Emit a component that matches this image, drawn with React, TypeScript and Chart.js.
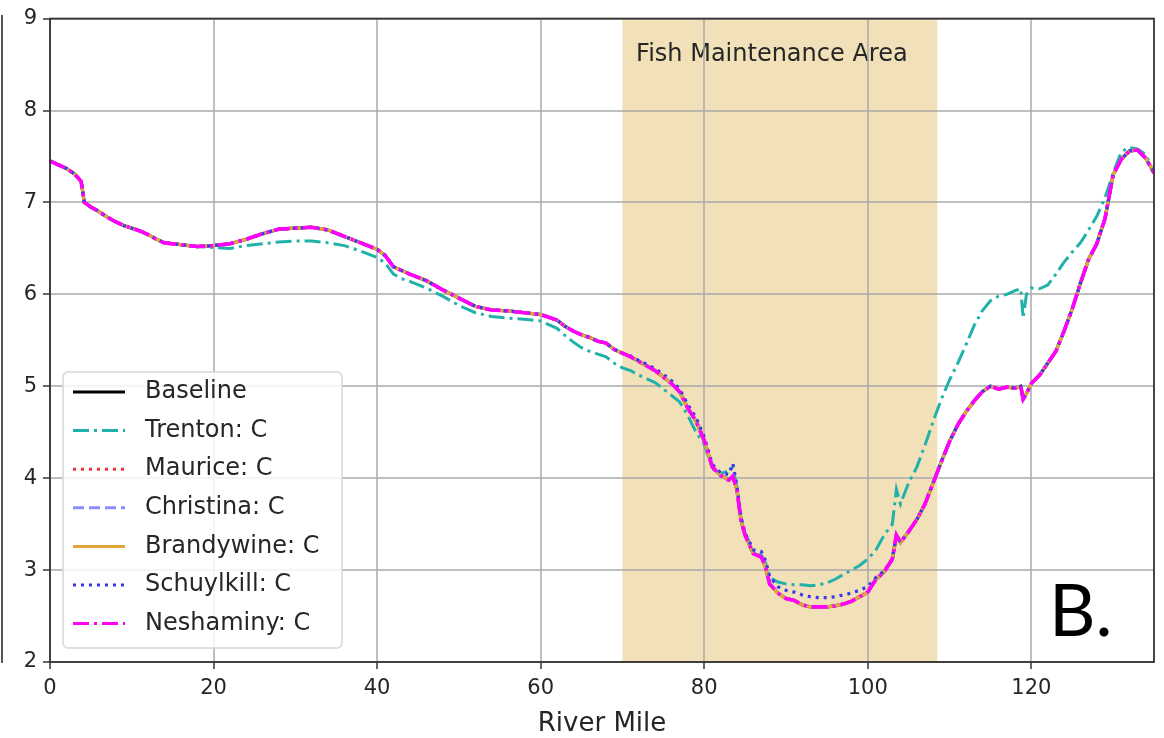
import React, { useEffect, useRef } from "react";
import { Chart, registerables } from "chart.js";

Chart.register(...registerables);

// ---------- data ----------
const riverMile = [
  0, 1, 2, 3, 3.8, 4.2, 5, 6, 7, 8,
  9, 10, 11, 12, 13, 14, 16, 18, 20, 22,
  24, 26, 28, 30, 32, 34, 36, 38, 40, 41,
  42, 43, 44, 46, 48, 50, 52, 54, 56, 58,
  60, 62, 63, 64, 65, 66, 67, 68, 69, 70,
  71, 72, 73, 74, 75, 76, 77, 78, 79, 80,
  81, 82, 83, 83.5, 84, 84.5, 85, 86, 87, 87.5,
  88, 89, 90, 91, 92, 93, 94, 95, 96, 97,
  98, 99, 100, 101, 102, 103, 103.5, 104, 105, 106,
  107, 108, 109, 110, 111, 112, 113, 114, 115, 116,
  117, 118, 118.7, 119, 119.4, 120, 121, 122, 123, 124,
  125, 126, 127, 128, 129, 130, 131, 132, 133, 134,
  135,
];

const baselineDO = [
  7.45, 7.41, 7.37, 7.31, 7.23, 7.0, 6.95, 6.9, 6.84, 6.79,
  6.75, 6.72, 6.69, 6.65, 6.6, 6.56, 6.54, 6.52, 6.53, 6.55,
  6.6, 6.66, 6.71, 6.72, 6.73, 6.7, 6.63, 6.56, 6.49, 6.42,
  6.3, 6.26, 6.22, 6.15, 6.05, 5.96, 5.87, 5.83, 5.82, 5.8,
  5.78, 5.72, 5.65, 5.6, 5.56, 5.53, 5.49, 5.47, 5.4, 5.36,
  5.32, 5.27, 5.22, 5.17, 5.1, 5.03, 4.94, 4.76, 4.62, 4.41,
  4.12, 4.03, 3.98, 4.02, 3.87, 3.54, 3.38, 3.18, 3.14, 3.03,
  2.85, 2.75, 2.69, 2.67, 2.62, 2.6, 2.6, 2.6, 2.61, 2.63,
  2.66, 2.71, 2.76, 2.9, 2.98, 3.12, 3.38, 3.3, 3.42, 3.55,
  3.72, 3.95, 4.18, 4.4, 4.58, 4.72, 4.84, 4.94, 5.0, 4.97,
  4.99, 4.98, 5.0, 4.86, 4.92, 5.03, 5.12, 5.25, 5.38, 5.6,
  5.84, 6.12, 6.38, 6.55, 6.82, 7.3, 7.47, 7.56, 7.57, 7.48,
  7.32,
];

const trentonDO = [
  7.45, 7.41, 7.37, 7.31, 7.23, 7.0, 6.95, 6.9, 6.84, 6.79,
  6.75, 6.72, 6.69, 6.65, 6.6, 6.56, 6.54, 6.52, 6.51, 6.5,
  6.53, 6.55, 6.57, 6.58, 6.58, 6.56, 6.53, 6.47, 6.4, 6.34,
  6.22, 6.17, 6.14, 6.07, 5.98, 5.88, 5.8, 5.76, 5.74, 5.73,
  5.71, 5.63, 5.55, 5.48, 5.42, 5.38, 5.35, 5.32, 5.25, 5.2,
  5.17, 5.12, 5.08, 5.04, 4.97, 4.9, 4.83, 4.68, 4.5, 4.37,
  4.1, 4.05, 4.08, 4.12, 3.9, 3.56, 3.4, 3.22, 3.16, 3.08,
  2.92, 2.87, 2.85, 2.84, 2.84, 2.83, 2.84, 2.86, 2.9, 2.95,
  3.0, 3.05, 3.12, 3.22, 3.38, 3.5, 3.88, 3.72, 3.95, 4.12,
  4.36, 4.62, 4.86, 5.07, 5.25, 5.45, 5.66, 5.82, 5.93, 5.98,
  6.0, 6.04, 6.06, 5.74, 6.0, 6.07, 6.06, 6.1, 6.22, 6.35,
  6.46, 6.56, 6.7, 6.85, 7.05, 7.32, 7.55, 7.6, 7.58, 7.52,
  7.32,
];

const mauriceDO = [
  7.45, 7.41, 7.37, 7.31, 7.23, 7.0, 6.95, 6.9, 6.84, 6.79,
  6.75, 6.72, 6.69, 6.65, 6.6, 6.56, 6.54, 6.52, 6.53, 6.55,
  6.6, 6.66, 6.71, 6.72, 6.73, 6.7, 6.63, 6.56, 6.49, 6.42,
  6.3, 6.26, 6.22, 6.15, 6.05, 5.96, 5.87, 5.83, 5.82, 5.8,
  5.78, 5.72, 5.65, 5.6, 5.56, 5.53, 5.49, 5.47, 5.4, 5.36,
  5.32, 5.27, 5.22, 5.17, 5.1, 5.03, 4.94, 4.76, 4.62, 4.41,
  4.12, 4.03, 3.98, 4.02, 3.87, 3.54, 3.38, 3.18, 3.14, 3.03,
  2.85, 2.75, 2.69, 2.67, 2.62, 2.6, 2.6, 2.6, 2.61, 2.63,
  2.66, 2.71, 2.76, 2.9, 2.98, 3.12, 3.38, 3.3, 3.42, 3.55,
  3.72, 3.95, 4.18, 4.4, 4.58, 4.72, 4.84, 4.94, 5.0, 4.97,
  4.99, 4.98, 5.0, 4.86, 4.92, 5.03, 5.12, 5.25, 5.38, 5.6,
  5.84, 6.12, 6.38, 6.55, 6.82, 7.3, 7.47, 7.56, 7.57, 7.48,
  7.32,
];

const christinaDO = [
  7.45, 7.41, 7.37, 7.31, 7.23, 7.0, 6.95, 6.9, 6.84, 6.79,
  6.75, 6.72, 6.69, 6.65, 6.6, 6.56, 6.54, 6.52, 6.53, 6.55,
  6.6, 6.66, 6.71, 6.72, 6.73, 6.7, 6.63, 6.56, 6.49, 6.42,
  6.3, 6.26, 6.22, 6.15, 6.05, 5.96, 5.87, 5.83, 5.82, 5.8,
  5.78, 5.72, 5.65, 5.6, 5.56, 5.53, 5.49, 5.47, 5.4, 5.36,
  5.32, 5.27, 5.22, 5.17, 5.1, 5.03, 4.94, 4.76, 4.62, 4.41,
  4.12, 4.03, 3.98, 4.02, 3.87, 3.54, 3.38, 3.18, 3.14, 3.03,
  2.85, 2.75, 2.69, 2.67, 2.62, 2.6, 2.6, 2.6, 2.61, 2.63,
  2.66, 2.71, 2.76, 2.9, 2.98, 3.12, 3.38, 3.3, 3.42, 3.55,
  3.72, 3.95, 4.18, 4.4, 4.58, 4.72, 4.84, 4.94, 5.0, 4.97,
  4.99, 4.98, 5.0, 4.86, 4.92, 5.03, 5.12, 5.25, 5.38, 5.6,
  5.84, 6.12, 6.38, 6.55, 6.82, 7.3, 7.47, 7.56, 7.57, 7.48,
  7.32,
];

const brandywineDO = [
  7.45, 7.41, 7.37, 7.31, 7.23, 7.0, 6.95, 6.9, 6.84, 6.79,
  6.75, 6.72, 6.69, 6.65, 6.6, 6.56, 6.54, 6.52, 6.53, 6.55,
  6.6, 6.66, 6.71, 6.72, 6.73, 6.7, 6.63, 6.56, 6.49, 6.42,
  6.3, 6.26, 6.22, 6.15, 6.05, 5.96, 5.87, 5.83, 5.82, 5.8,
  5.78, 5.72, 5.65, 5.6, 5.56, 5.53, 5.49, 5.47, 5.4, 5.36,
  5.32, 5.27, 5.22, 5.17, 5.1, 5.03, 4.94, 4.76, 4.62, 4.41,
  4.12, 4.03, 3.98, 4.02, 3.87, 3.54, 3.38, 3.18, 3.14, 3.03,
  2.85, 2.75, 2.69, 2.67, 2.62, 2.6, 2.6, 2.6, 2.61, 2.63,
  2.66, 2.71, 2.76, 2.9, 2.98, 3.12, 3.38, 3.3, 3.42, 3.55,
  3.72, 3.95, 4.18, 4.4, 4.58, 4.72, 4.84, 4.94, 5.0, 4.97,
  4.99, 4.98, 5.0, 4.86, 4.92, 5.03, 5.12, 5.25, 5.38, 5.6,
  5.84, 6.12, 6.38, 6.55, 6.82, 7.3, 7.47, 7.56, 7.57, 7.48,
  7.32,
];

const schuylkillDO = [
  7.45, 7.41, 7.37, 7.31, 7.23, 7.0, 6.95, 6.9, 6.84, 6.79,
  6.75, 6.72, 6.69, 6.65, 6.6, 6.56, 6.54, 6.52, 6.53, 6.55,
  6.6, 6.66, 6.71, 6.72, 6.73, 6.7, 6.63, 6.56, 6.49, 6.42,
  6.3, 6.26, 6.22, 6.15, 6.05, 5.96, 5.87, 5.83, 5.82, 5.8,
  5.78, 5.72, 5.65, 5.6, 5.56, 5.53, 5.49, 5.47, 5.4, 5.36,
  5.33, 5.28, 5.24, 5.19, 5.13, 5.06, 4.97, 4.8, 4.66, 4.45,
  4.15, 4.06, 4.04, 4.16, 3.92, 3.58, 3.4, 3.22, 3.2, 3.1,
  2.93, 2.82, 2.78, 2.76, 2.73, 2.71, 2.7, 2.7, 2.71, 2.73,
  2.75, 2.78, 2.82, 2.92, 2.99, 3.12, 3.38, 3.3, 3.42, 3.55,
  3.72, 3.95, 4.18, 4.4, 4.58, 4.72, 4.84, 4.94, 5.0, 4.97,
  4.99, 4.98, 5.0, 4.86, 4.92, 5.03, 5.12, 5.25, 5.38, 5.6,
  5.84, 6.12, 6.38, 6.55, 6.82, 7.3, 7.47, 7.56, 7.57, 7.48,
  7.32,
];

const neshaminyDO = [
  7.45, 7.41, 7.37, 7.31, 7.23, 7.0, 6.95, 6.9, 6.84, 6.79,
  6.75, 6.72, 6.69, 6.65, 6.6, 6.56, 6.54, 6.52, 6.53, 6.55,
  6.6, 6.66, 6.71, 6.72, 6.73, 6.7, 6.63, 6.56, 6.49, 6.42,
  6.3, 6.26, 6.22, 6.15, 6.05, 5.96, 5.87, 5.83, 5.82, 5.8,
  5.78, 5.72, 5.65, 5.6, 5.56, 5.53, 5.49, 5.47, 5.4, 5.36,
  5.32, 5.27, 5.22, 5.17, 5.1, 5.03, 4.94, 4.76, 4.62, 4.41,
  4.12, 4.03, 3.98, 4.02, 3.87, 3.54, 3.38, 3.18, 3.14, 3.03,
  2.85, 2.75, 2.69, 2.67, 2.62, 2.6, 2.6, 2.6, 2.61, 2.63,
  2.66, 2.71, 2.76, 2.9, 2.98, 3.12, 3.38, 3.3, 3.42, 3.55,
  3.72, 3.95, 4.18, 4.4, 4.58, 4.72, 4.84, 4.94, 5.0, 4.97,
  4.99, 4.98, 5.0, 4.86, 4.92, 5.03, 5.12, 5.25, 5.38, 5.6,
  5.84, 6.12, 6.38, 6.55, 6.82, 7.3, 7.47, 7.56, 7.57, 7.48,
  7.32,
];

const seriesLabels = [
  "Baseline",
  "Trenton: C",
  "Maurice: C",
  "Christina: C",
  "Brandywine: C",
  "Schuylkill: C",
  "Neshaminy: C",
];
const seriesValues = [
  baselineDO,
  trentonDO,
  mauriceDO,
  christinaDO,
  brandywineDO,
  schuylkillDO,
  neshaminyDO,
];

const xTickValues = [0, 20, 40, 60, 80, 100, 120];
const yTickValues = [2, 3, 4, 5, 6, 7, 8, 9];
const fishAreaStart = 70;
const fishAreaEnd = 108.5;
const fishAreaLabel = "Fish Maintenance Area";
const panelLabel = "B.";
const xAxisTitle = "River Mile";

// ---------- styles ----------
const seriesStyles = [
  { color: "#000000", dash: [] as number[], width: 3.2 },
  { color: "#20b2aa", dash: [16, 5, 3, 5], width: 3 },
  { color: "#f0303c", dash: [3, 5], width: 3.2 },
  { color: "#8c8cff", dash: [11, 5], width: 3.2 },
  { color: "#dfa73a", dash: [] as number[], width: 3.4 },
  { color: "#3838f0", dash: [3, 5], width: 3.2 },
  { color: "#ff00ff", dash: [16, 5, 3, 5], width: 3.6 },
];

const FONT = "'DejaVu Sans', sans-serif";
const TEXT = "#262626";

const decorPlugin = {
  id: "decor",
  beforeDraw(chart: any) {
    const { ctx, chartArea, scales } = chart;
    const x0 = scales.x.getPixelForValue(fishAreaStart);
    const x1 = scales.x.getPixelForValue(fishAreaEnd);
    ctx.save();
    ctx.fillStyle = "rgb(241,224,184)";
    ctx.fillRect(x0, chartArea.top, x1 - x0, chartArea.bottom - chartArea.top);
    ctx.fillStyle = TEXT;
    ctx.font = `24px ${FONT}`;
    ctx.textAlign = "center";
    ctx.textBaseline = "middle";
    ctx.fillText(fishAreaLabel, (x0 + x1) / 2 - 8, 55);
    // stray edge line at far left (cut-off axis label)
    ctx.strokeStyle = "#555";
    ctx.lineWidth = 2;
    ctx.beginPath();
    ctx.moveTo(2, 15);
    ctx.lineTo(2, 663);
    ctx.stroke();
    ctx.restore();
  },
  afterDraw(chart: any) {
    const { ctx, chartArea } = chart;
    ctx.save();
    // frame
    ctx.strokeStyle = "#333";
    ctx.lineWidth = 1.8;
    ctx.strokeRect(chartArea.left, chartArea.top, chartArea.right - chartArea.left, chartArea.bottom - chartArea.top);

    // legend
    const ds = chart.data.datasets;
    const bx = 63, by = 372, bw = 279, bh = 276;
    ctx.fillStyle = "rgba(255,255,255,0.85)";
    ctx.strokeStyle = "#d6d6d6";
    ctx.lineWidth = 1.5;
    ctx.beginPath();
    (ctx as any).roundRect(bx, by, bw, bh, 5);
    ctx.fill();
    ctx.stroke();
    ctx.font = `24px ${FONT}`;
    ctx.textAlign = "left";
    ctx.textBaseline = "middle";
    for (let i = 0; i < ds.length; i++) {
      const y = 392 + i * 38.6;
      ctx.strokeStyle = ds[i].borderColor;
      ctx.lineWidth = 3;
      ctx.setLineDash(ds[i].borderDash || []);
      ctx.beginPath();
      ctx.moveTo(73, y);
      ctx.lineTo(125, y);
      ctx.stroke();
      ctx.setLineDash([]);
      ctx.fillStyle = TEXT;
      ctx.fillText(ds[i].label, 145, y);
    }

    // panel letter
    ctx.fillStyle = "#000";
    ctx.font = `72px Lato, 'Open Sans', sans-serif`;
    ctx.textAlign = "left";
    ctx.textBaseline = "alphabetic";
    ctx.fillText(panelLabel, 1049, 636);
    ctx.restore();
  },
};

export default function App() {
  const canvasRef = useRef<HTMLCanvasElement | null>(null);

  useEffect(() => {
    if (!canvasRef.current) return;
    const datasets = seriesLabels.map((label, i) => ({
      label,
      data: riverMile.map((x, j) => ({ x, y: seriesValues[i][j] })),
      borderColor: seriesStyles[i].color,
      backgroundColor: seriesStyles[i].color,
      borderDash: seriesStyles[i].dash,
      borderWidth: seriesStyles[i].width,
      pointRadius: 0,
      tension: 0,
      fill: false,
      order: seriesLabels.length - 1 - i,
    }));

    const chart = new Chart(canvasRef.current, {
      type: "line",
      data: { datasets },
      plugins: [decorPlugin],
      options: {
        animation: false,
        responsive: false,
        devicePixelRatio: 1,
        layout: { padding: { left: 0, top: 17, right: 10, bottom: 0 } },
        plugins: {
          legend: { display: false },
          tooltip: { enabled: false },
          title: { display: false },
        },
        scales: {
          x: {
            type: "linear",
            min: 0,
            max: 135,
            afterBuildTicks: (scale: any) => {
              scale.ticks = xTickValues.map((v) => ({ value: v }));
            },
            afterFit: (scale: any) => {
              scale.height = 76;
            },
            grid: {
              color: "rgba(170,170,170,0.75)",
              lineWidth: 2,
              tickLength: 7,
              tickColor: "#333",
              tickWidth: 1.5,
            },
            border: { display: false },
            ticks: {
              padding: 7,
              color: TEXT,
              font: { family: FONT, size: 21 },
              maxRotation: 0,
            },
            title: {
              display: true,
              text: xAxisTitle,
              color: TEXT,
              font: { family: FONT, size: 26 },
              padding: { top: 0, bottom: -2 },
            },
          },
          y: {
            type: "linear",
            min: 2,
            max: 9,
            afterBuildTicks: (scale: any) => {
              scale.ticks = yTickValues.map((v) => ({ value: v }));
            },
            afterFit: (scale: any) => {
              scale.width = 50;
            },
            grid: {
              color: "rgba(170,170,170,0.75)",
              lineWidth: 2,
              tickLength: 7,
              tickColor: "#333",
              tickWidth: 1.5,
            },
            border: { display: false },
            ticks: {
              padding: 6,
              color: TEXT,
              font: { family: FONT, size: 21 },
            },
          },
        },
      },
    } as any);

    return () => chart.destroy();
  }, []);

  return (
    <div style={{ position: "absolute", left: 0, top: 0, width: 1164, height: 738, background: "#fff" }}>
      <canvas ref={canvasRef} width={1164} height={738} style={{ display: "block" }} />
    </div>
  );
}
